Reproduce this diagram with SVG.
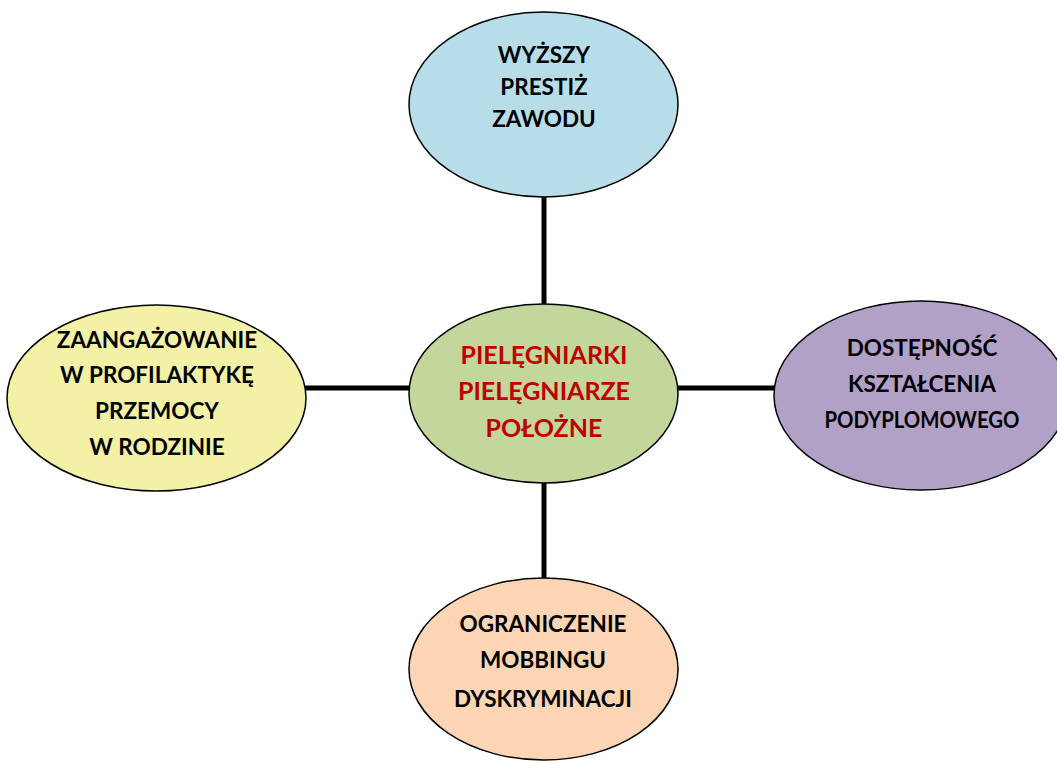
<svg xmlns="http://www.w3.org/2000/svg" width="1057" height="762" viewBox="0 0 1057 762">
<style>
.n{stroke:#000;stroke-width:1.5}
.t{font-family:Lato,"Liberation Sans",sans-serif;font-weight:bold;font-size:22.5px;fill:#000;text-anchor:middle}
.r{font-size:25px;fill:#c00000}
.c{stroke:#000;stroke-width:5;fill:none}
</style>
<rect width="1057" height="762" fill="#fff"/>
<g id="connectors">
<line class="c" x1="544" y1="197" x2="544" y2="305"/>
<line class="c" x1="544" y1="482" x2="544" y2="579"/>
<line class="c" x1="305" y1="388" x2="410" y2="388"/>
<line class="c" x1="677" y1="388" x2="775" y2="388"/>
</g>
<g id="top">
<ellipse class="n" cx="543.5" cy="104.5" rx="134.5" ry="92.5" fill="#b7dee8"/>
<text class="t" x="544" y="63">WYŻSZY</text>
<text class="t" x="544" y="95">PRESTIŻ</text>
<text class="t" x="544" y="127">ZAWODU</text>
</g>
<g id="center">
<ellipse class="n" cx="543.5" cy="393.5" rx="134.5" ry="89.5" fill="#c3d69b"/>
<text class="t r" x="544" y="364">PIELĘGNIARKI</text>
<text class="t r" x="544" y="400">PIELĘGNIARZE</text>
<text class="t r" x="544" y="437">POŁOŻNE</text>
</g>
<g id="left">
<ellipse class="n" cx="156.5" cy="398" rx="149.5" ry="93" fill="#f3f1a5"/>
<text class="t" x="157" y="348">ZAANGAŻOWANIE</text>
<text class="t" x="157" y="383">W PROFILAKTYKĘ</text>
<text class="t" x="157" y="419">PRZEMOCY</text>
<text class="t" x="157" y="455">W RODZINIE</text>
</g>
<g id="right">
<ellipse class="n" cx="921" cy="395.5" rx="147" ry="94.5" fill="#b2a1c7"/>
<text class="t" x="922" y="356">DOSTĘPNOŚĆ</text>
<text class="t" x="922" y="392">KSZTAŁCENIA</text>
<text class="t" x="922" y="428" textLength="195" lengthAdjust="spacingAndGlyphs">PODYPLOMOWEGO</text>
</g>
<g id="bottom">
<ellipse class="n" cx="543.5" cy="669" rx="134.5" ry="91" fill="#fcd5b5"/>
<text class="t" x="543" y="632">OGRANICZENIE</text>
<text class="t" x="543" y="668">MOBBINGU</text>
<text class="t" x="543" y="707">DYSKRYMINACJI</text>
</g>
</svg>
